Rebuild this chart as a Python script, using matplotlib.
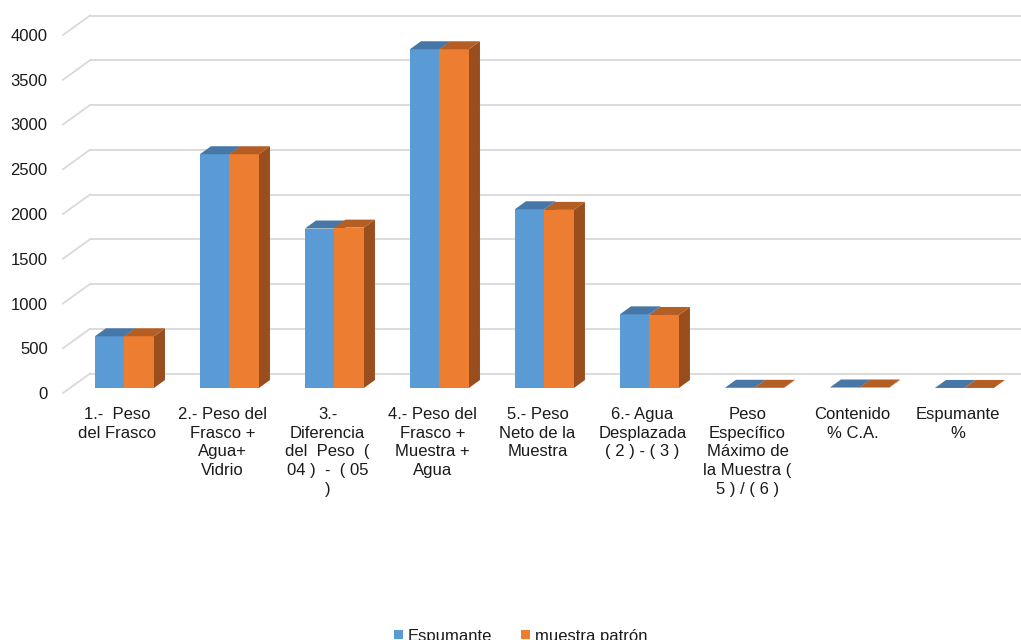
import matplotlib
matplotlib.use("Agg")
import matplotlib.pyplot as plt
from matplotlib.patches import Polygon, Patch

plt.rcParams['font.family'] = ['Liberation Sans', 'DejaVu Sans']

categories = [
    "1.-  Peso\ndel Frasco",
    "2.- Peso del\nFrasco +\nAgua+\nVidrio",
    "3.-\nDiferencia\ndel  Peso  (\n04 )  -  ( 05\n)",
    "4.- Peso del\nFrasco +\nMuestra +\nAgua",
    "5.- Peso\nNeto de la\nMuestra",
    "6.- Agua\nDesplazada\n( 2 ) - ( 3 )",
    "Peso\nEspecífico\nMáximo de\nla Muestra (\n5 ) / ( 6 )",
    "Contenido\n% C.A.",
    "Espumante\n%",
]
espumante = [578, 2612, 1782, 3785, 1997, 823, 2.4, 5.6, 0.5]
muestra_patron = [578, 2612, 1792, 3785, 1990, 816, 2.4, 5.6, 0.5]
series_names = ["Espumante", "muestra patrón"]
yticks = [0, 500, 1000, 1500, 2000, 2500, 3000, 3500, 4000]

front_colors = ["#5B9BD5", "#ED7D31"]
top_colors = ["#4677A6", "#B55E24"]
side_colors = ["#4A7AA6", "#9A4E1E"]
grid_color = "#D9D9D9"
text_color = "#1a1a1a"
fs = 12

W, H = 1021, 640
fig = plt.figure(figsize=(W / 100, H / 100), dpi=100)

# front plane of the plot box (pixels): left 63, right 994, top 35, bottom 393
ax = fig.add_axes([63 / W, (H - 393) / H, 931 / W, 358 / H])
x_lo, x_hi = -0.519, 8.348
y_lo, y_hi = 0, 4000
ax.set_xlim(x_lo, x_hi)
ax.set_ylim(y_lo, y_hi)

px_x = (x_hi - x_lo) / 931.0     # data units per pixel, x
px_y = (y_hi - y_lo) / 358.0     # data units per pixel, y

# full depth of the box (back wall offset)
DX = 27 * px_x
DY = 19.5 * px_y
# bars sit between these depth fractions
f_front, f_back = 0.256, 0.666

# back wall + side wall gridlines
for v in yticks:
    ax.plot([x_lo + DX, x_hi + DX], [v + DY, v + DY], color=grid_color,
            lw=1.3, clip_on=False, zorder=1, solid_capstyle='butt')
    ax.plot([x_lo, x_lo + DX], [v, v + DY], color=grid_color,
            lw=1.3, clip_on=False, zorder=1)

bar_w = 29.5 * px_x
ox0, oy0 = f_front * DX, f_front * DY
ddx, ddy = (f_back - f_front) * DX, (f_back - f_front) * DY

z = 3
for i in range(len(categories)):
    for s, vals in enumerate([espumante, muestra_patron]):
        v = vals[i]
        xl = i - bar_w + s * bar_w + ox0
        xr = xl + bar_w
        ax.bar(xl, v, width=bar_w, bottom=oy0, align='edge',
               color=front_colors[s], edgecolor='none', zorder=z, clip_on=False)
        top = v + oy0
        ax.add_patch(Polygon([(xl, top), (xr, top), (xr + ddx, top + ddy),
                              (xl + ddx, top + ddy)], closed=True, clip_on=False,
                             facecolor=top_colors[s], edgecolor='none', zorder=z))
        ax.add_patch(Polygon([(xr, oy0), (xr, top), (xr + ddx, top + ddy),
                              (xr + ddx, oy0 + ddy)], closed=True, clip_on=False,
                             facecolor=side_colors[s], edgecolor='none', zorder=z - 0.5))
        z += 1

for sp in ax.spines.values():
    sp.set_visible(False)
ax.set_facecolor('none')

ax.set_yticks(yticks)
ax.set_yticklabels([str(t) for t in yticks])
ax.set_xticks(range(len(categories)))
ax.set_xticklabels(categories, linespacing=1.31)
ax.tick_params(axis='y', length=0, pad=11, labelsize=fs, labelcolor=text_color)
ax.tick_params(axis='x', length=0, pad=10, labelsize=fs, labelcolor=text_color)

handles = [Patch(facecolor=c, edgecolor='none') for c in front_colors]
fig.legend(handles, series_names, loc='center', bbox_to_anchor=(0.51, 1 - 636 / H),
           ncol=2, frameon=False, fontsize=fs, handlelength=0.5, handleheight=0.5,
           handletextpad=0.3, columnspacing=1.75, labelcolor=text_color)

fig.savefig("out.png", dpi=100, facecolor='white')
